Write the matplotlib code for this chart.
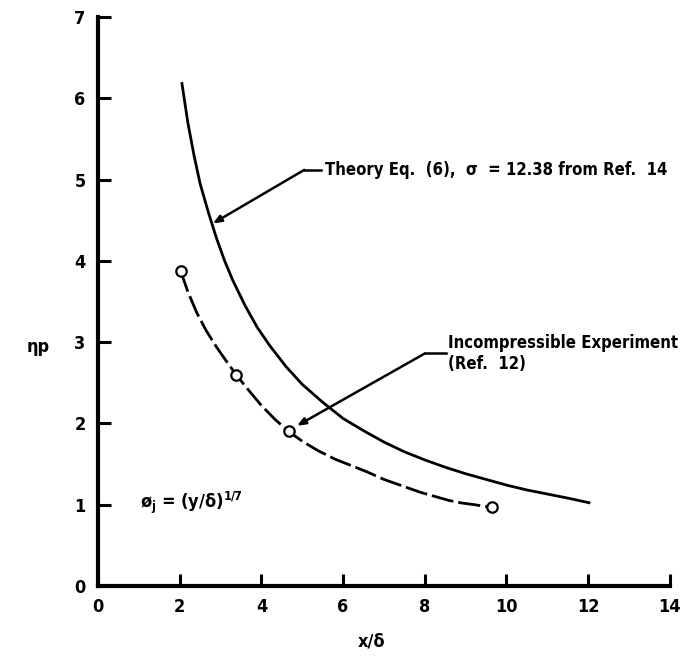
import matplotlib
matplotlib.use("Agg")
import matplotlib.pyplot as plt

plt.rcParams['font.family'] = ['DejaVu Sans']
plt.rcParams['font.stretch'] = 'condensed'
plt.rcParams['font.weight'] = 'bold'
plt.rcParams['mathtext.fontset'] = 'custom'
plt.rcParams['mathtext.rm'] = 'DejaVu Sans:bold'
plt.rcParams['mathtext.it'] = 'DejaVu Sans:bold'

# theory curve
theory_x = [2.05, 2.2, 2.35, 2.5, 2.7, 2.9, 3.1, 3.3, 3.6, 3.9, 4.2, 4.6, 5.0, 5.5,
            6.0, 6.5, 7.0, 7.5, 8.0, 8.5, 9.0, 9.5, 10.0, 10.5, 11.0, 11.5, 12.05]
theory_y = [6.20, 5.70, 5.30, 4.95, 4.60, 4.28, 4.00, 3.76, 3.45, 3.18, 2.96, 2.70,
            2.48, 2.26, 2.06, 1.91, 1.77, 1.65, 1.55, 1.46, 1.38, 1.31, 1.24, 1.18,
            1.13, 1.08, 1.02]

# measured points
exp_x = [2.02, 3.38, 4.67, 9.65]
exp_y = [3.88, 2.60, 1.90, 0.97]

# dashed fairing through the measured points
fair_x = [2.02, 2.2, 2.42, 2.65, 2.9, 3.15, 3.38, 3.7, 4.0, 4.33, 4.67, 5.0, 5.4,
          5.8, 6.2, 6.6, 7.0, 7.45, 7.9, 8.25, 8.6, 8.9, 9.2, 9.45, 9.65]
fair_y = [3.88, 3.62, 3.36, 3.14, 2.94, 2.76, 2.60, 2.40, 2.22, 2.05, 1.90, 1.78,
          1.66, 1.56, 1.48, 1.40, 1.31, 1.23, 1.15, 1.10, 1.05, 1.02, 1.00, 0.98, 0.97]

xticks = [0, 2, 4, 6, 8, 10, 12, 14]
yticks = [0, 1, 2, 3, 4, 5, 6, 7]

fig = plt.figure(figsize=(7, 6.59), dpi=100)
ax = fig.add_axes([0.14, 0.111, 0.817, 0.863])

ax.plot(theory_x, theory_y, color='black', lw=2.0, solid_capstyle='butt')
ax.plot(fair_x, fair_y, color='black', lw=2.0, dashes=(8, 1.8))
ax.plot(exp_x, exp_y, 'o', ms=7.5, mfc='white', mec='black', mew=1.6, zorder=5)

ax.set_xlim(0, 14)
ax.set_ylim(0, 7)
ax.set_xticks(xticks)
ax.set_yticks(yticks)
for s in ['top', 'right']:
    ax.spines[s].set_visible(False)
for s in ['left', 'bottom']:
    ax.spines[s].set_linewidth(3.0)
ax.tick_params(direction='in', length=9, width=2.2, labelsize=13, pad=9)

ax.text(-0.125, 0.42, 'ηp', transform=ax.transAxes, fontsize=13,
        ha='left', va='center')
ax.text(6.7, -0.68, 'x/δ', fontsize=13, ha='center', va='center')

ax.text(1.03, 1.02, 'ø$_{\\rm j}$ = (y/δ)$^{1/7}$', fontsize=13, ha='left', va='center')

arrow = dict(arrowstyle='-|>,head_length=0.5,head_width=0.2', color='black', lw=1.8,
             shrinkA=0, shrinkB=0)
ax.annotate('', xy=(2.81, 4.46), xytext=(5.05, 5.12), arrowprops=arrow)
ax.plot([5.05, 5.45], [5.12, 5.12], color='black', lw=1.8)
ax.text(5.55, 5.12, 'Theory Eq.  (6),  σ  = 12.38 from Ref.  14', fontsize=12,
        ha='left', va='center')

ax.annotate('', xy=(4.87, 1.97), xytext=(8.0, 2.86), arrowprops=arrow)
ax.plot([8.0, 8.52], [2.86, 2.86], color='black', lw=1.8)
ax.text(8.58, 2.86, 'Incompressible Experiment\n(Ref.  12)', fontsize=12,
        ha='left', va='center', linespacing=1.15)

fig.savefig('out.png', dpi=100)
